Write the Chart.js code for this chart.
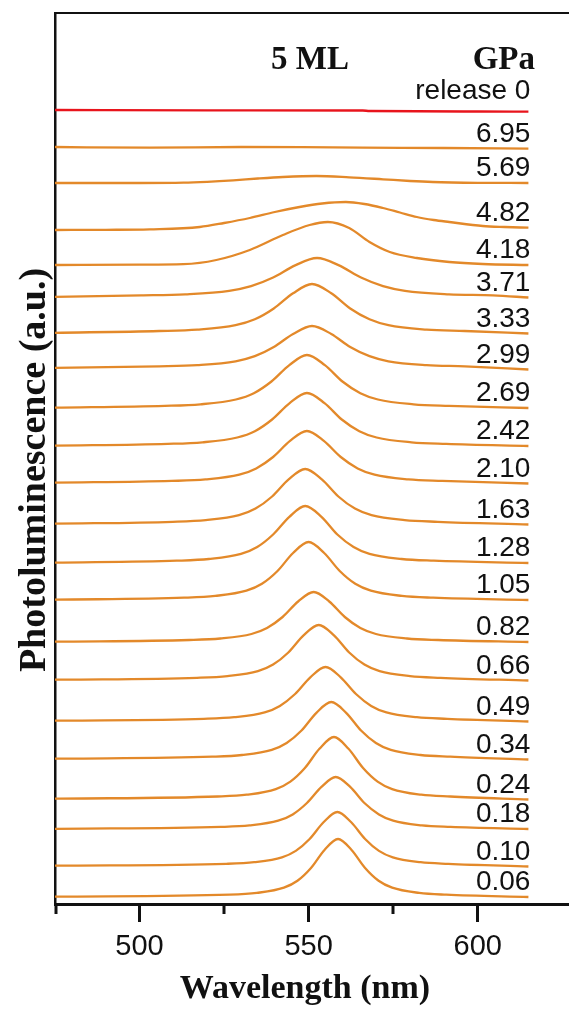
<!DOCTYPE html>
<html>
<head>
<meta charset="utf-8">
<script src="https://cdn.jsdelivr.net/npm/chart.js@4.4.1/dist/chart.umd.min.js"></script>
<style>
  html, body { margin: 0; padding: 0; background: #ffffff; overflow: hidden; }
  canvas { display: block; }
</style>
</head>
<body>
<canvas id="pl" width="569" height="1012"></canvas>
<script>
// Pressure labels, bottom trace first; the last one is the decompressed sample.
const pressures = ['0.06', '0.10', '0.18', '0.24', '0.34', '0.49', '0.66', '0.82', '1.05', '1.28',
  '1.63', '2.10', '2.42', '2.69', '2.99', '3.33', '3.71', '4.18', '4.82', '5.69', '6.95', 'release 0'];

// Vertical offset of each trace in the waterfall (a.u.)
const baselines = [0.7, 3.8, 7.5, 10.5, 14.5, 18.3, 22.4, 26.2, 30.4, 34.1,
  38.0, 42.1, 45.8, 49.6, 53.6, 57.1, 60.7, 63.9, 67.4, 72.1, 75.7, 79.4];

// PL spectra: [wavelength (nm), intensity above the trace offset (a.u.)]
const spec006 = [[475,0.03],[526.7,0.23],[534.7,0.41],[542.7,0.93],[546.7,1.62],[550.7,2.9],[554.7,4.7],[558.7,5.8],[562.7,4.7],[566.7,2.9],[570.7,1.62],[574.7,0.93],[582.7,0.41],[590.7,0.23],[615,0.0]];
const spec010 = [[475,0.03],[525.7,0.22],[533.9,0.38],[542.1,0.86],[546.2,1.51],[550.3,2.7],[554.4,4.37],[558.5,5.4],[562.6,4.37],[566.7,2.7],[570.8,1.51],[574.9,0.86],[583.1,0.38],[591.3,0.22],[615,-0.05]];
const spec018 = [[475,0.02],[524.0,0.21],[532.5,0.36],[541.0,0.83],[545.3,1.46],[549.5,2.6],[553.8,4.21],[558.0,5.2],[562.3,4.21],[566.5,2.6],[570.8,1.46],[575.0,0.83],[583.5,0.36],[592.0,0.21],[615,0.0]];
const spec024 = [[475,0.03],[523.1,0.25],[531.7,0.43],[540.3,0.99],[544.6,1.74],[548.9,3.1],[553.2,5.02],[557.5,6.2],[561.8,5.02],[566.1,3.1],[570.4,1.74],[574.7,0.99],[583.3,0.43],[591.9,0.25],[615,-0.05]];
const spec034 = [[475,0.03],[521.5,0.23],[530.3,0.4],[539.1,0.91],[543.5,1.6],[547.9,2.85],[552.3,4.62],[556.7,5.7],[561.1,4.62],[565.5,2.85],[569.9,1.6],[574.3,0.91],[583.1,0.4],[591.9,0.23],[615,-0.05]];
const spec049 = [[475,0.03],[519.0,0.22],[528.0,0.38],[537.0,0.86],[541.5,1.51],[546.0,2.7],[550.5,4.37],[555.0,5.4],[559.5,4.37],[564.0,2.7],[568.5,1.51],[573.0,0.86],[582.0,0.38],[591.0,0.22],[615,-0.05]];
const spec066 = [[475,0.03],[517.0,0.22],[526.0,0.39],[535.0,0.88],[539.5,1.54],[544.0,2.75],[548.5,4.46],[553.0,5.5],[557.5,4.46],[562.0,2.75],[566.5,1.54],[571.0,0.88],[580.0,0.39],[589.0,0.22],[615,-0.05]];
const spec082 = [[475,0.03],[514.7,0.2],[523.9,0.35],[533.1,0.8],[537.7,1.4],[542.3,2.5],[546.9,4.05],[551.5,5.0],[556.1,4.05],[560.7,2.5],[565.3,1.4],[569.9,0.8],[579.1,0.35],[588.3,0.2],[615,0.0]];
const spec105 = [[475,0.03],[513.2,0.23],[522.4,0.41],[531.6,0.93],[536.2,1.62],[540.8,2.9],[545.4,4.7],[550.0,5.8],[554.6,4.7],[559.2,2.9],[563.8,1.62],[568.4,0.93],[577.6,0.41],[586.8,0.23],[615,0.0]];
const spec128 = [[475,0.03],[511.0,0.23],[520.5,0.4],[530.0,0.91],[534.8,1.6],[539.5,2.85],[544.3,4.62],[549.0,5.7],[553.8,4.62],[558.5,2.85],[563.3,1.6],[568.0,0.91],[577.5,0.4],[587.0,0.23],[615,0.0]];
const spec163 = [[475,0.03],[509.8,0.22],[519.6,0.39],[529.4,0.88],[534.3,1.54],[539.2,2.75],[544.1,4.46],[549.0,5.5],[553.9,4.46],[558.8,2.75],[563.7,1.54],[568.6,0.88],[578.4,0.39],[588.2,0.22],[615,-0.05]];
const spec210 = [[475,0.03],[509.5,0.21],[519.5,0.36],[529.5,0.83],[534.5,1.46],[539.5,2.6],[544.5,4.21],[549.5,5.2],[554.5,4.21],[559.5,2.6],[564.5,1.46],[569.5,0.83],[579.5,0.36],[589.5,0.21],[615,-0.05]];
const spec242 = [[475,0.03],[508.3,0.21],[518.6,0.37],[528.9,0.85],[534.1,1.48],[539.2,2.65],[544.4,4.29],[549.5,5.3],[554.7,4.29],[559.8,2.65],[565.0,1.48],[570.1,0.85],[580.4,0.37],[590.7,0.21],[615,0.0]];
const spec269 = [[475,0.03],[507.5,0.21],[518.0,0.37],[528.5,0.85],[533.8,1.48],[539.0,2.65],[544.3,4.29],[549.5,5.3],[554.8,4.29],[560.0,2.65],[565.3,1.48],[570.5,0.85],[581.0,0.37],[591.5,0.21],[615,0.0]];
const spec299 = [[475,0.02],[505.8,0.17],[517.1,0.29],[528.4,0.67],[534.1,1.18],[539.7,2.1],[545.4,3.4],[551.0,4.2],[556.7,3.4],[562.3,2.1],[568.0,1.18],[573.6,0.67],[584.9,0.29],[596.2,0.17],[615,-0.15]];
const spec333 = [[475,0.02],[505.8,0.2],[517.1,0.34],[528.4,0.78],[534.1,1.37],[539.7,2.45],[545.4,3.97],[551.0,4.9],[556.7,3.97],[562.3,2.45],[568.0,1.37],[573.6,0.78],[584.9,0.34],[596.2,0.2],[615,-0.05]];
const spec371 = [[475,0.02],[500.5,0.16],[513.5,0.27],[526.5,0.62],[533.0,1.09],[539.5,1.95],[546.0,3.16],[552.5,3.9],[559.0,3.16],[565.5,1.95],[572.0,1.09],[578.5,0.62],[591.5,0.27],[604.5,0.16],[615,-0.05]];
const spec418 = [[475,0.0],[500,0.03],[513,0.08],[522.7,0.5],[532.6,1.5],[542.4,3.0],[550.3,4.0],[555.7,4.3],[562,3.7],[568,2.3],[574,1.3],[582,0.7],[591.6,0.3],[601.5,0.1],[615,0.0]];
const spec482 = [[475,0],[490,0.02],[503,0.07],[517.8,0.3],[525,0.7],[532.6,1.2],[540,1.8],[547.3,2.3],[554,2.65],[561,2.8],[566.5,2.6],[572,2.2],[577,1.75],[582,1.3],[587,1.0],[591.6,0.8],[601.5,0.4],[608,0.3],[615,0.23]];
const spec569 = [[475,0],[500,0.0],[513,0.03],[520,0.12],[527.7,0.27],[535,0.45],[542.4,0.6],[552.3,0.7],[562,0.57],[572,0.37],[580,0.2],[586.7,0.1],[600,0.02],[615,0]];
const spec695 = [[475,0],[503,-0.07],[530,0.0],[548,-0.02],[566,-0.07],[590,-0.1],[615,-0.17]];
const specRelease = [[475,0],[520,-0.03],[566,-0.05],[568,-0.1],[600,-0.15],[615,-0.17]];

const spectra = [spec006, spec010, spec018, spec024, spec034, spec049, spec066, spec082, spec105, spec128,
  spec163, spec210, spec242, spec269, spec299, spec333, spec371, spec418, spec482, spec569, spec695, specRelease];

// Axis ticks (nm)
const xTicks = [475, 500, 525, 550, 575, 600];
const xLabeled = [500, 550, 600];

const ORANGE = '#e3892a';
const RED = '#e8141c';
const INK = '#111111';
const SERIF = '"Liberation Serif", "Times New Roman", serif';
const SANS = '"Liberation Sans", Arial, sans-serif';

const datasets = spectra.map((pts, i) => ({
  label: pressures[i],
  data: pts.map(([x, h]) => ({ x: x, y: baselines[i] + h })),
  borderColor: i === spectra.length - 1 ? RED : ORANGE,
  borderWidth: 2.3,
  pointRadius: 0,
  fill: false,
  cubicInterpolationMode: 'monotone'
}));

// Minor ticks, pressure labels and titles
const decorations = {
  id: 'decorations',
  afterDraw(chart) {
    const { ctx, chartArea, scales } = chart;
    const xs = scales.x;
    ctx.save();

    // short minor ticks
    ctx.strokeStyle = INK;
    ctx.lineWidth = 3;
    xTicks.filter(v => !xLabeled.includes(v)).forEach(v => {
      const px = Math.round(xs.getPixelForValue(v)) + (v === xs.min ? 1 : 0);
      ctx.beginPath();
      ctx.moveTo(px, chartArea.bottom);
      ctx.lineTo(px, chartArea.bottom + 10);
      ctx.stroke();
    });

    // pressure labels above the right end of each trace
    ctx.fillStyle = INK;
    ctx.font = '28px ' + SANS;
    ctx.textAlign = 'right';
    ctx.textBaseline = 'alphabetic';
    chart.data.datasets.forEach((ds, i) => {
      const meta = chart.getDatasetMeta(i);
      const last = meta.data[meta.data.length - 1];
      const lift = i === chart.data.datasets.length - 1 ? 13 : 7;
      ctx.fillText(pressures[i], last.x + 2, last.y - lift);
    });

    // headers
    ctx.font = 'bold 33px ' + SERIF;
    ctx.textAlign = 'center';
    ctx.fillText('5 ML', 310, 69);
    ctx.textAlign = 'right';
    ctx.fillText('GPa', 535, 69);

    // axis titles
    ctx.font = 'bold 34px ' + SERIF;
    ctx.textAlign = 'center';
    ctx.fillText('Wavelength (nm)', 305, 998);

    ctx.font = 'bold 38px ' + SERIF;
    ctx.translate(45, 470);
    ctx.rotate(-Math.PI / 2);
    ctx.fillText('Photoluminescence (a.u.)', 0, 0);
    ctx.restore();
  }
};

new Chart(document.getElementById('pl'), {
  type: 'line',
  data: { datasets: datasets },
  options: {
    responsive: false,
    animation: false,
    devicePixelRatio: 1,
    layout: { padding: 0 },
    plugins: { legend: { display: false }, tooltip: { enabled: false } },
    scales: {
      x: {
        type: 'linear',
        position: 'bottom',
        min: 475,
        max: 627,
        afterBuildTicks: s => { s.ticks = xTicks.map(v => ({ value: v })); },
        afterFit: s => { s.height = 108; },
        ticks: {
          autoSkip: false,
          maxRotation: 0,
          padding: 8,
          color: INK,
          font: { family: SANS, size: 29 },
          callback: v => (xLabeled.includes(v) ? String(v) : '')
        },
        grid: {
          drawOnChartArea: false,
          tickLength: 18,
          tickWidth: 3,
          tickColor: c => (c.tick && xLabeled.includes(c.tick.value) ? INK : 'rgba(0,0,0,0)')
        },
        border: { display: true, color: INK, width: 3 }
      },
      xTop: {
        type: 'linear',
        position: 'top',
        min: 475,
        max: 627,
        afterFit: s => { s.height = 13; },
        ticks: { display: false },
        grid: { display: false, drawTicks: false },
        border: { display: true, color: INK, width: 2 }
      },
      y: {
        type: 'linear',
        min: 0,
        max: 89.1,
        afterFit: s => { s.width = 55; },
        ticks: { display: false },
        grid: { display: false, drawTicks: false },
        border: { display: true, color: INK, width: 2.5 }
      }
    }
  },
  plugins: [decorations]
});
</script>
</body>
</html>
